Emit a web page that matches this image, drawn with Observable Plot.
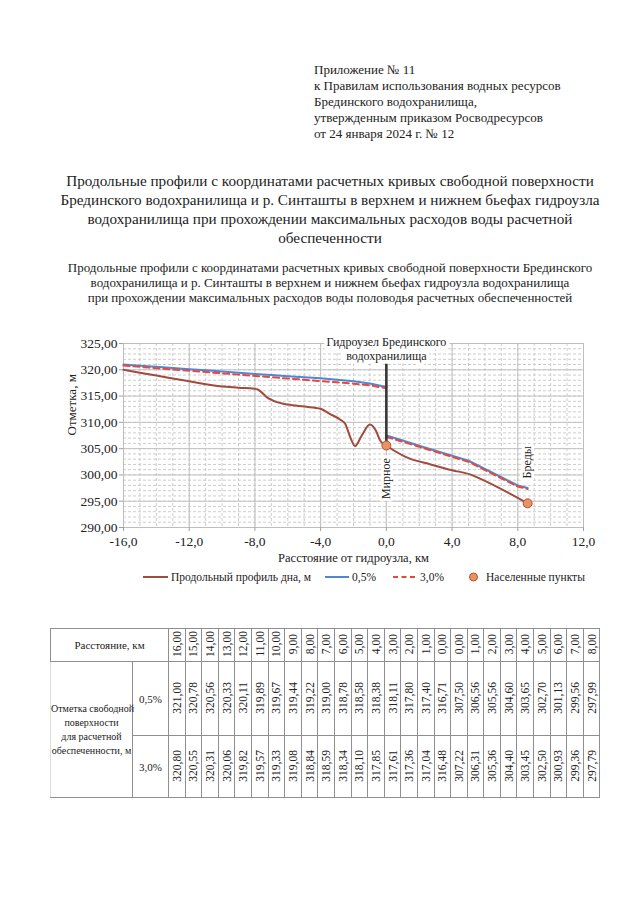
<!DOCTYPE html>
<html><head><meta charset="utf-8">
<script src="https://cdn.jsdelivr.net/npm/d3@7"></script>
<script src="https://cdn.jsdelivr.net/npm/@observablehq/plot@0.6"></script>
<style>
body{margin:0;background:#fff;font-family:"Liberation Serif","Times New Roman",serif;color:#222;}
#page{position:relative;width:640px;height:921px;overflow:hidden;background:#fff;}
.abs{position:absolute;}
#appendix{left:314px;top:62px;font-size:13px;line-height:16px;white-space:nowrap;}
#title{left:0;width:660px;top:171px;text-align:center;font-size:15.2px;line-height:19px;}
#subtitle{left:0;width:660px;top:260px;text-align:center;font-size:13px;line-height:15px;}
#chart{left:0;top:320px;}
.lg{position:absolute;top:569px;font-size:11.5px;line-height:15px;white-space:nowrap;}
#tbl{left:50px;top:628px;}
table{border-collapse:collapse;table-layout:fixed;font-size:11px;}
td{border:1px solid #8f8f8f;padding:0;text-align:center;vertical-align:middle;overflow:visible;}
.v{writing-mode:vertical-rl;transform:rotate(180deg);display:inline-block;font-size:11.5px;}
</style></head>
<body><div id="page">
<div id="appendix" class="abs">Приложение № 11<br>к Правилам использования водных ресурсов<br>Брединского водохранилища,<br>утвержденным приказом Росводресурсов<br>от 24 января 2024 г. № 12</div>
<div id="title" class="abs">Продольные профили с координатами расчетных кривых свободной поверхности<br>Брединского водохранилища и р. Синташты в верхнем и нижнем бьефах гидроузла<br>водохранилища при прохождении максимальных расходов воды расчетной<br>обеспеченности</div>
<div id="subtitle" class="abs">Продольные профили с координатами расчетных кривых свободной поверхности Брединского<br>водохранилища и р. Синташты в верхнем и нижнем бьефах гидроузла водохранилища<br>при прохождении максимальных расходов воды половодья расчетных обеспеченностей</div>
<div id="chart" class="abs"></div>
<div id="legend"></div>
<div id="tbl" class="abs"></div>
</div>
<script>
// ---- data ----
const distUp = [16,15,14,13,12,11,10,9,8,7,6,5,4,3,2,1,0];
const distDown = [0,1,2,3,4,5,6,7,8];
const p05Up = [321.00,320.78,320.56,320.33,320.11,319.89,319.67,319.44,319.22,319.00,318.78,318.58,318.38,318.11,317.80,317.40,316.71];
const p05Down = [307.50,306.56,305.56,304.60,303.65,302.70,301.13,299.56,297.99];
const p3Up = [320.80,320.55,320.31,320.06,319.82,319.57,319.33,319.08,318.84,318.59,318.34,318.10,317.85,317.61,317.36,317.04,316.48];
const p3Down = [307.22,306.31,305.36,304.40,303.45,302.50,300.93,299.36,297.79];
// end of the curves near Бреды
const endX = 8.6, end05 = 297.5, end3 = 297.3;
// river bed profile
const bedX = [-16,-14,-12,-10,-9,-8,-7.8,-7.2,-6.5,-6,-5,-4,-3.5,-2.8,-2.5,-2.2,-1.9,-1.5,-1.0,-0.65,-0.35,0,1.2,2.7,4,5.1,5.7,8.6];
const bedY = [320.0,318.9,317.8,316.8,316.6,316.4,316.2,314.6,313.7,313.4,313.0,312.6,311.7,310.5,309.7,307.2,305.5,307.5,309.6,308.5,306.4,305.6,303.4,302.0,300.9,300.1,299.3,294.6];
const placeNames = ["Мирное","Бреды"];
const placeX = [0, 8.6];
const placeY = [305.6, 294.6];
const placeLabelY = [299.3, 302.4];
const dam = {x:0, y1:305.6, y2:321.5, label:"Гидроузел Брединского\nводохранилища"};
const xTicks = [-16,-12,-8,-4,0,4,8,12];
const yTicks = [290,295,300,305,310,315,320,325];
const legendLabels = ["Продольный профиль дна, м","0,5%","3,0%","Населенные пункты"];

// ---- build ----
const C = {bed:"#a14a3e", p05:"#4f86d6", p3:"#e8473c", dotFill:"#eb9262", dotStroke:"#a9553a"};
const fmtY = d => d.toFixed(2).replace(".", ",");
const fmtX = d => d.toFixed(1).replace(".", ",");
const bed = bedX.map((x,i)=>({x, y:bedY[i]}));
const w05 = [...distUp.map((d,i)=>({z:"up",x:-d,y:p05Up[i]})), ...distDown.map((d,i)=>({z:"down",x:d,y:p05Down[i]})), {z:"down",x:endX,y:end05}];
const w3 = [...distUp.map((d,i)=>({z:"up",x:-d,y:p3Up[i]})), ...distDown.map((d,i)=>({z:"down",x:d,y:p3Down[i]})), {z:"down",x:endX,y:end3}];
const places = placeNames.map((n,i)=>({name:n, x:placeX[i], y:placeY[i], ly:placeLabelY[i]}));
const minorX = d3.range(-16, 12.01, 1);
const minorY = d3.range(290, 325.01, 1);

const plot = Plot.plot({
  width: 640, height: 250,
  marginLeft: 123, marginRight: 57, marginTop: 23, marginBottom: 43,
  style: {fontFamily: "Liberation Serif, Times New Roman, serif", fontSize: "13.5px", color: "#222", background: "transparent", overflow: "visible"},
  x: {domain: [-16, 12]},
  y: {domain: [290, 325]},
  marks: [
    Plot.gridX(minorX, {stroke: "#cdcdcd", strokeOpacity: 1, strokeDasharray: "3,2"}),
    Plot.gridY(minorY, {stroke: "#cdcdcd", strokeOpacity: 1, strokeDasharray: "3,2"}),
    Plot.gridX(xTicks, {stroke: "#c2c2c2", strokeOpacity: 1}),
    Plot.gridY(yTicks, {stroke: "#c2c2c2", strokeOpacity: 1}),
    Plot.frame({stroke: "#bdbdbd"}),
    Plot.axisX({ticks: xTicks, tickFormat: fmtX, tickSize: 4, stroke: "#a0a0a0", fill: "#222", label: null}),
    Plot.axisY({ticks: yTicks, tickFormat: fmtY, tickSize: 4, tickPadding: 2, stroke: "#a0a0a0", fill: "#222", label: null}),
    Plot.line(w05, {x:"x", y:"y", z:"z", stroke: C.p05, strokeWidth: 2}),
    Plot.line(w3, {x:"x", y:"y", z:"z", stroke: C.p3, strokeWidth: 2, strokeDasharray: "6,4"}),
    Plot.line(bed, {x:"x", y:"y", stroke: C.bed, strokeWidth: 2, curve: "monotone-x"}),
    Plot.ruleX([dam], {x:"x", y1:"y1", y2:"y2", stroke: "#363636", strokeWidth: 2.6}),
    Plot.text([dam], {x:"x", y:()=>325, dy: 5, text:"label", fontSize: 12, lineHeight: 1.17, fill:"#222", stroke:"white", strokeWidth: 7}),
    Plot.text(places, {x:"x", y:"ly", text:"name", rotate: -90, fontSize: 12, fill:"#222", stroke:"white", strokeWidth: 6}),
    Plot.dot(places, {x:"x", y:"y", r: 4.5, fill: C.dotFill, stroke: C.dotStroke, strokeWidth: 1}),
    Plot.text(["Отметка, м"], {frameAnchor: "left", dx: -52, rotate: -90, fontSize: 13, fill:"#222"}),
    Plot.text(["Расстояние от гидроузла, км"], {frameAnchor: "bottom", dy: 30, lineAnchor: "middle", fontSize: 12.5, fill:"#222"})
  ]
});
document.getElementById("chart").appendChild(plot);

// legend
const lg = document.getElementById("legend");
const lgPos = [143, 325, 393, 468];
const sw = [
  `<svg width="25" height="10"><line x1="0" x2="25" y1="5" y2="5" stroke="${C.bed}" stroke-width="2"/></svg>`,
  `<svg width="24" height="10"><line x1="0" x2="24" y1="5" y2="5" stroke="${C.p05}" stroke-width="2"/></svg>`,
  `<svg width="24" height="10"><line x1="0" x2="24" y1="5" y2="5" stroke="${C.p3}" stroke-width="2" stroke-dasharray="5,3.5"/></svg>`,
  `<svg width="11" height="10"><circle cx="5.5" cy="5" r="4" fill="${C.dotFill}" stroke="${C.dotStroke}" stroke-width="1"/></svg>`
];
const gaps = [3, 3, 3, 7];
legendLabels.forEach((t,i)=>{
  const d = document.createElement("div");
  d.className = "lg";
  d.style.left = lgPos[i] + "px";
  d.innerHTML = `<span style="display:inline-block;vertical-align:middle;margin-right:${gaps[i]}px;line-height:0">${sw[i]}</span><span style="vertical-align:middle">${t}</span>`;
  lg.appendChild(d);
});

// table
const allDist = [...distUp, ...distDown];
const all05 = [...p05Up, ...p05Down];
const all3 = [...p3Up, ...p3Down];
const f2 = d => d.toFixed(2).replace(".", ",");
const cw = 16.6;
let html = `<table style="width:${82+36+cw*allDist.length}px"><colgroup><col style="width:82px"><col style="width:36px">${allDist.map(()=>`<col style="width:${cw}px">`).join("")}</colgroup>`;
html += `<tr style="height:33px"><td colspan="2" style="font-size:11px">Расстояние, км</td>${allDist.map(d=>`<td><span class="v">${f2(d)}</span></td>`).join("")}</tr>`;
html += `<tr style="height:74px"><td rowspan="2" style="font-size:10px;line-height:14px;white-space:nowrap;border-left-color:#ddd">Отметка свободной<br>поверхности<br>для расчетной<br>обеспеченности, м</td><td>0,5%</td>${all05.map(v=>`<td><span class="v">${f2(v)}</span></td>`).join("")}</tr>`;
html += `<tr style="height:62px"><td>3,0%</td>${all3.map(v=>`<td><span class="v">${f2(v)}</span></td>`).join("")}</tr></table>`;
document.getElementById("tbl").innerHTML = html;
</script>
</body></html>
